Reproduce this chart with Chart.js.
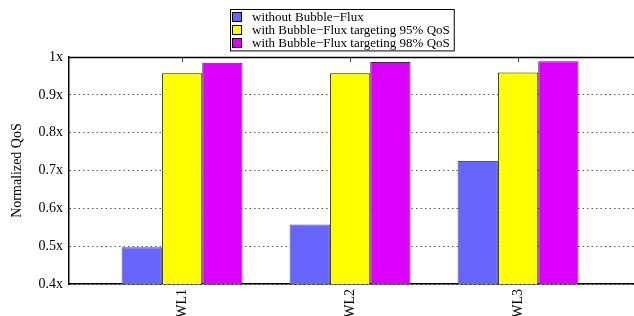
<!DOCTYPE html>
<html>
<head>
<meta charset="utf-8">
<script src="https://cdn.jsdelivr.net/npm/chart.js@4"></script>
<style>
  html, body { margin: 0; padding: 0; background: #fff; }
  #wrap { width: 634px; height: 316px; overflow: hidden; }
</style>
</head>
<body>
<div id="wrap"><canvas id="myChart" width="634" height="316"></canvas></div>
<script>
// data
var categories = ["WL1", "WL2", "WL3"];
var seriesNames = ["without Bubble\u2212Flux", "with Bubble\u2212Flux targeting 95% QoS", "with Bubble\u2212Flux targeting 98% QoS"];
var withoutFlux = [0.497, 0.557, 0.725];
var flux95 = [0.957, 0.957, 0.959];
var flux98 = [0.985, 0.987, 0.989];
var yTicks = [0.4, 0.5, 0.6, 0.7, 0.8, 0.9, 1];

var serif = "'Liberation Serif', 'DejaVu Serif', serif";

function points(vals) {
    return vals.map(function (v, i) { return { x: i + 1, y: v }; });
}

// legend box drawn by hand (single column, framed like gnuplot)
var boxLegend = {
    id: 'boxLegend',
    afterDraw: function (chart) {
        var ctx = chart.ctx;
        var sets = chart.data.datasets;
        ctx.save();
        ctx.font = "13px " + serif;
        var w = 0;
        sets.forEach(function (d) { w = Math.max(w, ctx.measureText(d.label).width); });
        var left = 230, top = 9, rowH = 12.8;
        var boxW = w + 26, boxH = sets.length * rowH + 3;
        ctx.strokeStyle = '#000';
        ctx.lineWidth = 1;
        ctx.strokeRect(left + 0.5, top + 0.5, boxW, boxH);
        ctx.textBaseline = 'middle';
        sets.forEach(function (d, i) {
            var y = Math.round(top + 2 + i * rowH + rowH / 2);
            ctx.fillStyle = d.backgroundColor;
            ctx.fillRect(left + 2, y - 5, 10, 10);
            ctx.strokeStyle = '#000';
            ctx.strokeRect(left + 2.5, y - 4.5, 9, 9);
            ctx.fillStyle = '#000';
            ctx.fillText(d.label, left + 22, y + 1);
        });
        // solid top frame line and mirrored ticks
        var a = chart.chartArea;
        ctx.beginPath();
        ctx.moveTo(a.left, a.top + 0.5);
        ctx.lineTo(a.right, a.top + 0.5);
        ctx.lineWidth = 1.5;
        ctx.stroke();
        var xs = chart.scales.x;
        ctx.lineWidth = 1;
        ctx.strokeStyle = '#444';
        xs.ticks.forEach(function (t) {
            var px = Math.round(xs.getPixelForValue(t.value)) + 0.5;
            ctx.beginPath();
            ctx.moveTo(px, a.top);
            ctx.lineTo(px, a.top + 5);
            ctx.stroke();
        });
        ctx.restore();
    }
};

var ctx = document.getElementById('myChart').getContext('2d');

var chart = new Chart(ctx, {
    type: 'bar',
    data: {
        datasets: [{
            label: seriesNames[0],
            backgroundColor: '#6666ff',
            borderColor: '#555',
            borderWidth: 1,
            data: points(withoutFlux),
        },
        {
            label: seriesNames[1],
            backgroundColor: '#ffff00',
            borderColor: '#222',
            borderWidth: 1,
            data: points(flux95),
        },
        {
            label: seriesNames[2],
            backgroundColor: '#dd00ff',
            borderColor: '#333',
            borderWidth: 1,
            data: points(flux98),
        }]
    },
    options: {
        responsive: false,
        animation: false,
        layout: { padding: { top: 57, right: 0, left: 0, bottom: 0 } },
        datasets: {
            bar: { categoryPercentage: 0.72, barPercentage: 1, grouped: true }
        },
        plugins: {
            legend: { display: false },
            tooltip: { enabled: false }
        },
        scales: {
            x: {
                type: 'linear',
                offset: false,
                min: 0.327,
                max: 3.69,
                afterBuildTicks: function (scale) {
                    scale.ticks = categories.map(function (c, i) { return { value: i + 1 }; });
                },
                afterFit: function (scale) { scale.height = 32; },
                ticks: {
                    autoSkip: false,
                    minRotation: 90,
                    maxRotation: 90,
                    padding: 5,
                    color: '#000',
                    font: { family: serif, size: 14 },
                    callback: function (v) { return categories[Math.round(v) - 1]; }
                },
                grid: { display: false, drawTicks: false },
                border: { display: true, color: '#000', width: 1.5 }
            },
            y: {
                min: 0.4,
                max: 1,
                afterBuildTicks: function (scale) {
                    scale.ticks = yTicks.map(function (v) { return { value: v }; });
                },
                afterFit: function (scale) { scale.width = 69; },
                ticks: {
                    padding: 6,
                    color: '#000',
                    font: { family: serif, size: 14 },
                    callback: function (v) { return (+v.toFixed(1)) + 'x'; }
                },
                grid: { color: '#555', lineWidth: 1, drawTicks: false },
                border: { display: true, color: '#000', width: 1.5, dash: [1.5, 3] },
                title: {
                    display: true,
                    text: 'Normalized QoS',
                    color: '#000',
                    font: { family: serif, size: 14 },
                    padding: { top: 9, bottom: 0 }
                }
            }
        }
    },
    plugins: [boxLegend]
});
</script>
</body>
</html>
